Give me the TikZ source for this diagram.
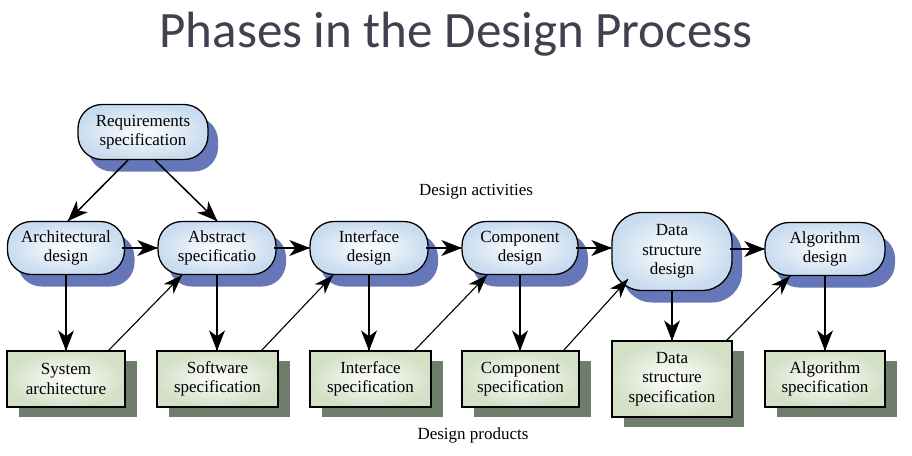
\documentclass[tikz,border=0pt]{standalone}
\usepackage{fontspec}
\setmainfont{Liberation Serif}
\newfontfamily\titlefont{Carlito}
\usetikzlibrary{arrows.meta,shadows,backgrounds,decorations.markings}
\definecolor{titlegray}{HTML}{40404F}
\definecolor{actouter}{HTML}{C9DCEF}
\definecolor{actshadow}{HTML}{6577B9}
\definecolor{actglow}{HTML}{DCE6F5}
\definecolor{prodouter}{HTML}{D3E0C6}
\definecolor{prodshadow}{HTML}{6F7E6C}
\tikzset{
  txt/.style={font=\fontsize{17}{19.5}\selectfont, align=center},
  act/.style={draw=black, line width=1.3pt, rounded corners=24pt,
    inner color=white, outer color=actouter,
    minimum width=118pt, minimum height=53pt, inner sep=1pt,
    general shadow={fill=actshadow, shadow xshift=10pt, shadow yshift=-12pt}},
  prod/.style={draw=black, line width=1.3pt,
    inner color=white, outer color=prodouter,
    minimum width=118pt, minimum height=56pt, inner sep=1pt,
    general shadow={fill=prodshadow, shadow xshift=12pt, shadow yshift=-10pt}},
  glow/.style={fill=actglow},
  headbig/.style={postaction={decorate, decoration={markings,
      mark=at position 1 with {\fill[black] (0.5pt,0pt) -- (-20pt,8pt) -- (-14pt,0pt) -- (-20pt,-8pt) -- cycle;}}}},
  headthin/.style={postaction={decorate, decoration={markings,
      mark=at position 1 with {\fill[black] (0.5pt,0pt) -- (-19pt,7pt) -- (-13pt,0pt) -- (-19pt,-7pt) -- cycle;}}}},
  bigarr/.style={line width=1.8pt, headbig},
  thinarr/.style={line width=1.1pt, headthin}
}
\begin{document}
\begin{tikzpicture}[x=1pt,y=-1pt]
\useasboundingbox (0,0) rectangle (912,455);
\fill[white] (0,0) rectangle (912,455);

\node[font=\titlefont\fontsize{51}{56}\selectfont, text=titlegray, anchor=base] (title) at (456,47) {Phases in the Design Process};

% activity shapes
\node[act, minimum width=130pt, minimum height=55pt] (req) at (143,132) {};
\node[act, minimum width=117pt] (arch) at (66,248) {};
\node[act] (abs) at (217,248) {};
\node[act] (intf) at (369,248) {};
\node[act, minimum width=116pt] (comp) at (520,248) {};
\node[act, minimum width=120pt, minimum height=78pt, rounded corners=30pt] (data) at (672,251.5) {};
\node[act, minimum width=120pt] (alg) at (825,249) {};

% product shapes
\node[prod] (sys) at (66,379) {};
\node[prod, minimum width=121pt] (sw) at (217.5,379) {};
\node[prod, minimum width=121pt] (isp) at (370.5,379) {};
\node[prod, minimum width=117pt] (csp) at (520.5,379) {};
\node[prod, minimum width=120pt, minimum height=76pt] (dsp) at (672,379) {};
\node[prod, minimum width=120pt] (asp) at (825,379) {};

% texts
\node[txt] (treq) at (req) {Requirements\\specification};
\node[txt] (tarch) at (arch) {Architectural\\design};
\node[txt] (tabs) at (abs) {Abstract\\specificatio};
\node[txt] (tintf) at (intf) {Interface\\design};
\node[txt] (tcomp) at (comp) {Component\\design};
\node[txt] (tdata) at (data) {Data\\structure\\design};
\node[txt] (talg) at (alg) {Algorithm\\design};
\node[txt] (tsys) at (sys) {System\\architecture};
\node[txt] (tsw) at (sw) {Software\\specification};
\node[txt] (tisp) at (isp) {Interface\\specification};
\node[txt] (tcsp) at (csp) {Component\\specification};
\node[txt] (tdsp) at (dsp) {Data\\structure\\specification};
\node[txt] (tasp) at (asp) {Algorithm\\specification};

% labels
\node[txt] (la) at (476,192) {Design activities};
\node[txt] (lp) at (473,435) {Design products};

% glow behind activity nodes
\begin{scope}[on background layer]
  \foreach \n in {req,arch,abs,intf,comp,data,alg}
    \fill[glow] ([shift={(1pt,-1pt)}]\n.north west) rectangle ([shift={(-1pt,1pt)}]\n.south east);
\end{scope}

% arrows from requirements
\draw[bigarr, line width=1.5pt] ([xshift=-15pt]req.south) -- ([xshift=2pt]arch.north);
\draw[bigarr, line width=1.5pt] ([xshift=12pt]req.south) -- (abs.north);

% horizontal arrows
\draw[bigarr] ([xshift=-3pt]arch.east) -- (abs.west);
\draw[bigarr] ([xshift=-3pt]abs.east) -- (intf.west);
\draw[bigarr] ([xshift=-3pt]intf.east) -- (comp.west);
\draw[bigarr] ([xshift=-3pt]comp.east) -- (data.west |- comp.east);
\draw[bigarr] ([xshift=-3pt]data.east |- alg.east) -- (alg.west);

% vertical arrows
\draw[bigarr] (arch.south) -- (sys.north);
\draw[bigarr] (abs.south) -- (abs.south |- sw.north);
\draw[bigarr] (intf.south) -- (intf.south |- isp.north);
\draw[bigarr] (comp.south) -- (comp.south |- csp.north);
\draw[bigarr] (data.south) -- (dsp.north);
\draw[bigarr] (alg.south) -- (asp.north);

% diagonal arrows
\draw[thinarr] ([xshift=-17pt]sys.north east) -- ([xshift=-35pt]abs.south);
\draw[thinarr] ([xshift=-17pt]sw.north east) -- ([xshift=-36pt]intf.south);
\draw[thinarr] ([xshift=-17pt]isp.north east) -- ([xshift=-33pt]comp.south);
\draw[thinarr] ([xshift=-16pt]csp.north east) -- ([xshift=-44pt,yshift=12pt]data.south);
\draw[thinarr] ([xshift=-6pt]dsp.north east) -- ([xshift=-35pt]alg.south);
\end{tikzpicture}
\end{document}
